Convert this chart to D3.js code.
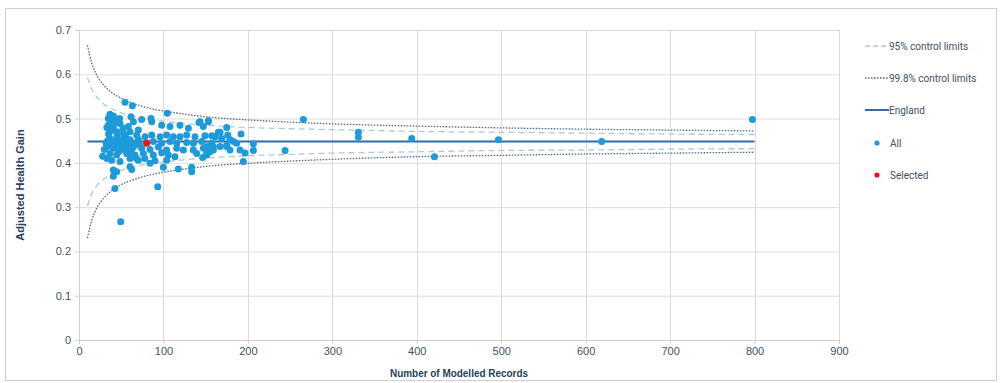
<!DOCTYPE html>
<html><head><meta charset="utf-8">
<script src="https://cdn.jsdelivr.net/npm/d3@7"></script>
<style>
body{margin:0;background:#fff;}
svg{display:block;}
</style></head><body>
<svg id="c" width="1003" height="383"></svg>
<script>
// ---- data ----
const xTicks = [0,100,200,300,400,500,600,700,800,900];
const yTicks = [0,0.1,0.2,0.3,0.4,0.5,0.6,0.7];
const englandValue = 0.448;
const englandRange = [10, 800];
const limitN = [10,15,20,30,40,50,60,80,100,125,150,200,250,300,400,500,600,700,800];
const upper95 = [0.593,0.566,0.551,0.532,0.521,0.513,0.507,0.499,0.494,0.489,0.485,0.480,0.477,0.475,0.471,0.469,0.467,0.465,0.464];
const lower95 = [0.303,0.330,0.346,0.364,0.376,0.383,0.389,0.397,0.402,0.407,0.411,0.416,0.419,0.422,0.425,0.428,0.429,0.431,0.432];
const upper998 = [0.666,0.626,0.602,0.574,0.557,0.546,0.537,0.525,0.517,0.510,0.504,0.497,0.492,0.488,0.483,0.479,0.476,0.474,0.472];
const lower998 = [0.230,0.270,0.294,0.322,0.339,0.351,0.359,0.371,0.379,0.386,0.392,0.399,0.404,0.408,0.414,0.417,0.420,0.422,0.424];
const allN = [54.5,63.2,104.6,36.7,40.7,34.7,44.6,39.5,61.6,64.4,74.2,85.3,86.1,97.9,107.8,119.6,129.5,142.1,153.2,165.0,176.1,
  34.7,40.7,48.6,58.4,60.4,70.3,36.7,44.6,52.5,68.3,78.2,86.1,96.0,103.8,111.7,119.6,127.5,137.4,149.2,161.1,
  36.7,44.6,52.5,60.4,70.3,88.0,97.9,107.8,115.7,127.5,135.4,145.3,157.1,174.9,
  32.8,40.7,48.6,56.5,64.4,74.2,84.1,94.0,103.8,115.7,123.6,135.4,147.3,159.1,
  36.7,44.6,56.5,66.3,76.2,88.0,97.9,105.8,113.7,139.4,151.2,
  38.7,48.6,60.4,70.3,84.1,103.8,99.9,117.6,133.4,133.4,40.7,44.6,60.4,62.4,40.7,93.2,42.6,49.4,
  32,34,38,42,46,50,54,58,45,35,55,66,72,30,33,38,42,48,52,28,33,47,53,62,68,78,90,
  143.3,147.2,153.2,174.9,167.0,157.1,161.1,169.0,178.8,182.8,186.7,191.9,151.2,159.1,167.0,174.9,178.8,155.1,151.2,190.7,196.6,206.5,206.5,146.5,194.6,
  265.7,244.0,330.8,330.8,394,496.7,619,797.5,420.9];
const allValue = [0.537,0.529,0.512,0.510,0.506,0.500,0.497,0.493,0.504,0.493,0.498,0.500,0.493,0.485,0.482,0.485,0.478,0.491,0.493,0.469,0.463,
  0.485,0.482,0.489,0.482,0.470,0.474,0.470,0.470,0.467,0.463,0.459,0.463,0.459,0.463,0.459,0.459,0.463,0.459,0.461,0.459,
  0.455,0.452,0.455,0.452,0.452,0.448,0.444,0.448,0.444,0.446,0.444,0.448,0.444,0.440,
  0.436,0.433,0.436,0.433,0.436,0.433,0.430,0.436,0.429,0.433,0.429,0.429,0.433,0.429,
  0.421,0.418,0.421,0.418,0.421,0.418,0.423,0.418,0.414,0.421,0.418,
  0.406,0.403,0.410,0.406,0.399,0.406,0.390,0.386,0.390,0.380,0.384,0.380,0.391,0.385,0.370,0.346,0.342,0.267,
  0.445,0.450,0.440,0.445,0.440,0.450,0.440,0.445,0.460,0.465,0.460,0.445,0.440,0.430,0.480,0.475,0.490,0.500,0.478,0.415,0.410,0.425,0.430,0.425,0.410,0.410,0.405,
  0.493,0.482,0.495,0.480,0.469,0.461,0.459,0.455,0.453,0.448,0.444,0.465,0.437,0.437,0.437,0.437,0.429,0.425,0.422,0.429,0.422,0.428,0.443,0.412,0.403,
  0.498,0.428,0.469,0.458,0.455,0.452,0.448,0.498,0.414];
const selectedN = [80.1];
const selectedValue = [0.444];
const legendLabels = ["95% control limits","99.8% control limits","England","All","Selected"];

// ---- drawing ----
const svg = d3.select("#c");
const plot = {left:79, right:839, top:30, bottom:340};
const x = d3.scaleLinear().domain([0,900]).range([plot.left, plot.right]);
const y = d3.scaleLinear().domain([0,0.7]).range([plot.bottom, plot.top]);
const tickColor = "#3e5166";
const font = "'Liberation Sans Narrow','Arial Narrow','Liberation Sans',Arial,sans-serif";

svg.append("rect").attr("x",5.5).attr("y",8.5).attr("width",991).attr("height",372)
  .attr("fill","#fff").attr("stroke","#d0d0d0");

// grid
const g = svg.append("g");
g.selectAll(".gy").data(yTicks).join("line")
  .attr("x1",plot.left).attr("x2",plot.right).attr("y1",d=>y(d)+0.5).attr("y2",d=>y(d)+0.5)
  .attr("stroke","#dcdcdc").attr("stroke-width",1);
g.selectAll(".gx").data(xTicks).join("line")
  .attr("y1",plot.top).attr("y2",plot.bottom).attr("x1",d=>Math.round(x(d))+0.5).attr("x2",d=>Math.round(x(d))+0.5)
  .attr("stroke","#dcdcdc").attr("stroke-width",1);

// axes
const xAxis = svg.append("g").attr("transform",`translate(0,${plot.bottom})`)
  .call(d3.axisBottom(x).tickValues(xTicks).tickSize(4).tickPadding(3).tickFormat(d3.format("d")));
const yAxis = svg.append("g").attr("transform",`translate(${plot.left},0)`)
  .call(d3.axisLeft(y).tickValues(yTicks).tickSize(4).tickPadding(4).tickFormat(d=>d===0?"0":d3.format(".1f")(d)));
[xAxis,yAxis].forEach(a=>{
  a.select(".domain").attr("stroke","#cfcfcf");
  a.selectAll(".tick line").attr("stroke","#cfcfcf");
  a.selectAll("text").attr("fill",tickColor).style("font-family",font).style("font-size","11px");
});

// control limits
const line = d3.line().x(d=>x(d[0])).y(d=>y(d[1])).curve(d3.curveMonotoneX);
const mk = arr => limitN.map((n,i)=>[n,arr[i]]);
const dash95 = "6,4", dot998 = "1.6,1.4";
[upper95,lower95].forEach(a=>svg.append("path").attr("d",line(mk(a))).attr("fill","none")
  .attr("stroke","#b4c6d2").attr("stroke-width",1.3).attr("stroke-dasharray",dash95));
[upper998,lower998].forEach(a=>svg.append("path").attr("d",line(mk(a))).attr("fill","none")
  .attr("stroke","#5a6e80").attr("stroke-width",1.3).attr("stroke-dasharray",dot998));

// England
svg.append("line").attr("x1",x(englandRange[0])).attr("x2",x(englandRange[1]))
  .attr("y1",y(englandValue)).attr("y2",y(englandValue)).attr("stroke","#356aa3").attr("stroke-width",2);

// points
const all = allN.map((n,i)=>[n,allValue[i]]);
svg.append("g").selectAll("circle").data(all).join("circle")
  .attr("cx",d=>x(d[0])).attr("cy",d=>y(d[1])).attr("r",3.5).attr("fill","#1d9ad9");
const sel = selectedN.map((n,i)=>[n,selectedValue[i]]);
svg.append("g").selectAll("circle").data(sel).join("circle")
  .attr("cx",d=>x(d[0])).attr("cy",d=>y(d[1])).attr("r",3.5).attr("fill","#f01020");

// titles
svg.append("text").attr("x",(plot.left+plot.right)/2).attr("y",377).attr("text-anchor","middle")
  .attr("fill","#253f5c").style("font-family",font).style("font-size","11px").style("font-weight","bold")
  .attr("textLength",138).attr("lengthAdjust","spacingAndGlyphs")
  .text("Number of Modelled Records");
svg.append("text").attr("transform",`translate(24,${(plot.top+plot.bottom)/2}) rotate(-90)`).attr("text-anchor","middle")
  .attr("fill","#253f5c").style("font-family",font).style("font-size","11px").style("font-weight","bold")
  .text("Adjusted Health Gain");

// legend
const lg = svg.append("g");
const ly = [46,78,110,143,175];
const lfont = "Roboto,'Liberation Sans',Arial,sans-serif";
ly.forEach((yy,i)=>{
  if(i===0) lg.append("line").attr("x1",865).attr("x2",889).attr("y1",yy).attr("y2",yy).attr("stroke","#b4c6d2").attr("stroke-width",1.3).attr("stroke-dasharray","5,3");
  if(i===1) lg.append("line").attr("x1",865).attr("x2",889).attr("y1",yy).attr("y2",yy).attr("stroke","#5a6e80").attr("stroke-width",1.3).attr("stroke-dasharray",dot998);
  if(i===2) lg.append("line").attr("x1",865).attr("x2",889).attr("y1",yy).attr("y2",yy).attr("stroke","#356aa3").attr("stroke-width",2);
  if(i===3) lg.append("circle").attr("cx",877).attr("cy",yy).attr("r",2.6).attr("fill","#1d9ad9");
  if(i===4) lg.append("circle").attr("cx",877).attr("cy",yy).attr("r",2.6).attr("fill","#f01020");
  lg.append("text").attr("x",i<3?889:890).attr("y",yy+3.5).attr("fill","#3e5166")
    .style("font-family",lfont).style("font-size","10px").text(legendLabels[i]);
});
</script>
</body></html>
